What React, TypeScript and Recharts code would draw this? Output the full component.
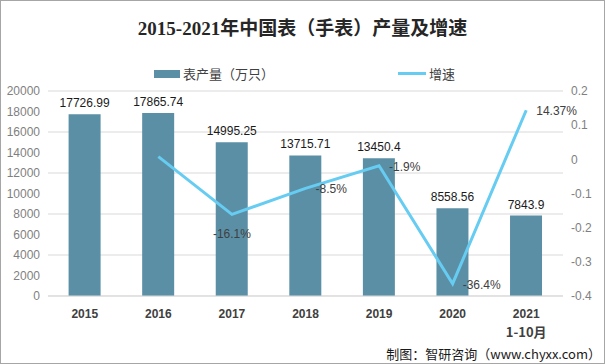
import {
    Bar,
    CartesianGrid,
    ComposedChart,
    LabelList,
    Line,
    XAxis,
    YAxis,
} from "recharts";

const categories = ["2015", "2016", "2017", "2018", "2019", "2020", "2021"];
const subLabels = ["", "", "", "", "", "", "1-10月"];
const output = [17726.99, 17865.74, 14995.25, 13715.71, 13450.4, 8558.56, 7843.9];
const growth = [null, 0.0078, -0.161, -0.085, -0.019, -0.364, 0.1437];
const growthLabels = ["", "", "-16.1%", "-8.5%", "-1.9%", "-36.4%", "14.37%"];
const leftTicks = [0, 2000, 4000, 6000, 8000, 10000, 12000, 14000, 16000, 18000, 20000];
const rightTicks = [-0.4, -0.3, -0.2, -0.1, 0, 0.1, 0.2];

const BAR = "#5b8fa6";
const LINE = "#66ccf2";
const NUM_FONT = "'Liberation Sans', 'Noto Sans CJK SC', sans-serif";
const CJK_FONT = "'Noto Sans CJK SC', sans-serif";

const data = categories.map((c, i) => ({
    year: c,
    sub: subLabels[i],
    output: output[i],
    growth: growth[i],
    growthLabel: growthLabels[i],
}));

function YearTick(props: any) {
    const { x, y, payload, index } = props;
    const sub = subLabels[index];
    return (
        <g>
            <text x={x} y={y + 14} textAnchor="middle" fontSize={12} fontWeight="bold" fill="#404040" fontFamily={NUM_FONT}>
                {payload.value}
            </text>
            {sub && (
                <text x={x} y={y + 33} textAnchor="middle" fontSize={13} fontWeight="bold" fill="#404040" fontFamily={CJK_FONT}>
                    {sub}
                </text>
            )}
        </g>
    );
}

function GrowthLabel(props: any) {
    const { x, y, index } = props;
    const text = growthLabels[index];
    if (!text) return null;
    // -16.1% sits under its point, the rest to the right
    if (index === 2) {
        return (
            <text x={x} y={y + 24} textAnchor="middle" fontSize={12} fill="#404040" fontFamily={NUM_FONT}>
                {text}
            </text>
        );
    }
    return (
        <text x={x + 10} y={y + 5} textAnchor="start" fontSize={12} fill="#404040" fontFamily={NUM_FONT}>
            {text}
        </text>
    );
}

export default function App() {
    return (
        <div
            style={{
                position: "absolute",
                left: 0,
                top: 0,
                width: 605,
                height: 364,
                boxSizing: "border-box",
                border: "1px solid #a6a6a6",
                background: "#fff",
                overflow: "hidden",
            }}
        >
            <div
                style={{
                    position: "absolute",
                    left: 0,
                    top: 12,
                    width: 603,
                    textAlign: "center",
                    fontSize: 19,
                    fontWeight: "bold",
                    color: "#262626",
                    fontFamily: "'Liberation Serif', 'Noto Sans CJK SC', serif",
                }}
            >
                2015-2021年中国表（手表）产量及增速
            </div>

            <div style={{ position: "absolute", left: 153, top: 63, display: "flex", alignItems: "center", fontFamily: CJK_FONT, fontSize: 13, color: "#404040" }}>
                <span style={{ display: "inline-block", width: 26, height: 8, background: BAR, marginRight: 3 }} />
                表产量（万只）
            </div>
            <div style={{ position: "absolute", left: 397, top: 63, display: "flex", alignItems: "center", fontFamily: CJK_FONT, fontSize: 13, color: "#404040" }}>
                <span style={{ display: "inline-block", width: 28, height: 3, background: LINE, marginRight: 3 }} />
                增速
            </div>

            <div style={{ position: "absolute", left: 0, top: 0 }}>
                <ComposedChart
                    width={603}
                    height={362}
                    data={data}
                    margin={{ top: 90, right: 0, bottom: 23, left: 0 }}
                    barCategoryGap="28%"
                >
                    <CartesianGrid yAxisId="left" vertical={false} stroke="#d9d9d9" />
                    <XAxis
                        dataKey="year"
                        height={44}
                        axisLine={{ stroke: "#d9d9d9" }}
                        tickLine={false}
                        interval={0}
                        tick={<YearTick />}
                    />
                    <YAxis
                        yAxisId="left"
                        width={47}
                        domain={[0, 20000]}
                        ticks={leftTicks}
                        axisLine={false}
                        tickLine={false}
                        tick={{ fontSize: 12, fill: "#7f7f7f", fontFamily: NUM_FONT }}
                    />
                    <YAxis
                        yAxisId="right"
                        orientation="right"
                        width={41}
                        domain={[-0.4, 0.2]}
                        ticks={rightTicks}
                        axisLine={false}
                        tickLine={false}
                        tick={{ fontSize: 12, fill: "#7f7f7f", fontFamily: NUM_FONT, textAnchor: "start" }}
                    />
                    <Bar yAxisId="left" dataKey="output" fill={BAR} isAnimationActive={false}>
                        <LabelList dataKey="output" position="top" offset={7} fontSize={12} fill="#1a1a1a" fontFamily={NUM_FONT} />
                    </Bar>
                    <Line
                        yAxisId="right"
                        dataKey="growth"
                        stroke={LINE}
                        strokeWidth={3}
                        dot={false}
                        activeDot={false}
                        connectNulls={false}
                        isAnimationActive={false}
                    >
                        <LabelList dataKey="growthLabel" content={<GrowthLabel />} />
                    </Line>
                </ComposedChart>
            </div>

            <div
                style={{
                    position: "absolute",
                    right: 3,
                    top: 343,
                    fontFamily: CJK_FONT,
                    fontSize: 13,
                    color: "#1a1a1a",
                }}
            >
                制图：智研咨询（www.chyxx.com）
            </div>
        </div>
    );
}
